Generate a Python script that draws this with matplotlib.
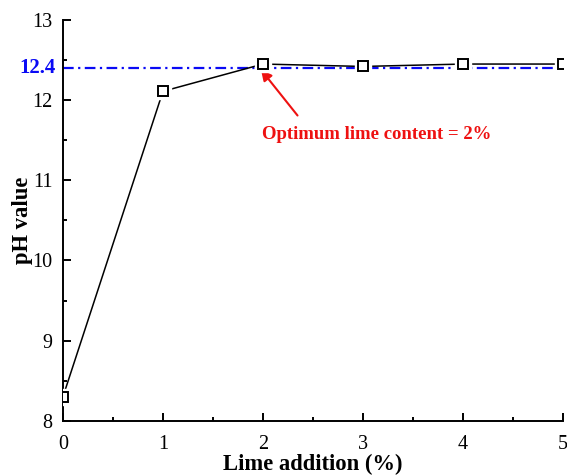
import matplotlib
matplotlib.use("Agg")
import matplotlib.pyplot as plt
from matplotlib.ticker import MultipleLocator

plt.rcParams['font.family'] = ['Liberation Serif', 'DejaVu Serif']

lime = [0, 1, 2, 3, 4, 5]
ph = [8.3, 12.11, 12.45, 12.42, 12.45, 12.45]
optimum_ph = 12.4
optimum_lime = 2

fig = plt.figure(figsize=(5.67, 4.75), dpi=100)
ax = fig.add_axes([0.111, 0.114, 0.882, 0.844])

# connecting line
ax.plot(lime, ph, color='black', linewidth=1.1, zorder=3)
# white halo around each marker leaves a small gap in the line
ax.plot(lime, ph, linestyle='none', marker='s', markersize=11.5,
        markerfacecolor='white', markeredgecolor='white', zorder=4)
ax.plot(lime, ph, linestyle='none', marker='s', markersize=7.5,
        markerfacecolor='white', markeredgecolor='black',
        markeredgewidth=1.4, zorder=5)

ax.axhline(optimum_ph, color='#0a0af5', linestyle='-.', linewidth=1.6,
           dashes=(4.8, 2.0, 1.0, 2.0), zorder=2)

ax.set_xlim(0, 5)
ax.set_ylim(8, 13)
ax.xaxis.set_major_locator(MultipleLocator(1))
ax.xaxis.set_minor_locator(MultipleLocator(0.5))
ax.yaxis.set_major_locator(MultipleLocator(1))
ax.yaxis.set_minor_locator(MultipleLocator(0.5))
ax.tick_params(which='both', direction='in', width=1.4, labelsize=14.5)
ax.tick_params(axis='x', which='both', pad=10)
ax.tick_params(axis='y', which='both', pad=7.5)
ax.tick_params(which='major', length=5.8)
ax.tick_params(which='minor', length=3)
for s in ('top', 'right'):
    ax.spines[s].set_visible(False)
for s in ('left', 'bottom'):
    ax.spines[s].set_linewidth(1.4)

ax.set_xlabel('Lime addition (%)', fontsize=16.3, fontweight='bold', labelpad=0)
ax.set_ylabel('pH value', fontsize=16.3, fontweight='bold', labelpad=-0.5)

ax.text(-0.075, optimum_ph, f'{optimum_ph}', color='#0a0af5', fontsize=15,
        fontweight='bold', ha='right', va='center')

ax.annotate(f'Optimum lime content = {optimum_lime}%',
            xy=(optimum_lime - 0.02, 12.38), xytext=(1.99, 11.575),
            color='#ee1111', fontsize=13.5, fontweight='bold',
            ha='left', va='center',
            arrowprops=dict(arrowstyle='-|>', color='#ee1111', lw=1.5,
                            shrinkA=0, shrinkB=0, mutation_scale=16,
                            relpos=(0.155, 1.6)))

fig.savefig('out.png', dpi=100)
